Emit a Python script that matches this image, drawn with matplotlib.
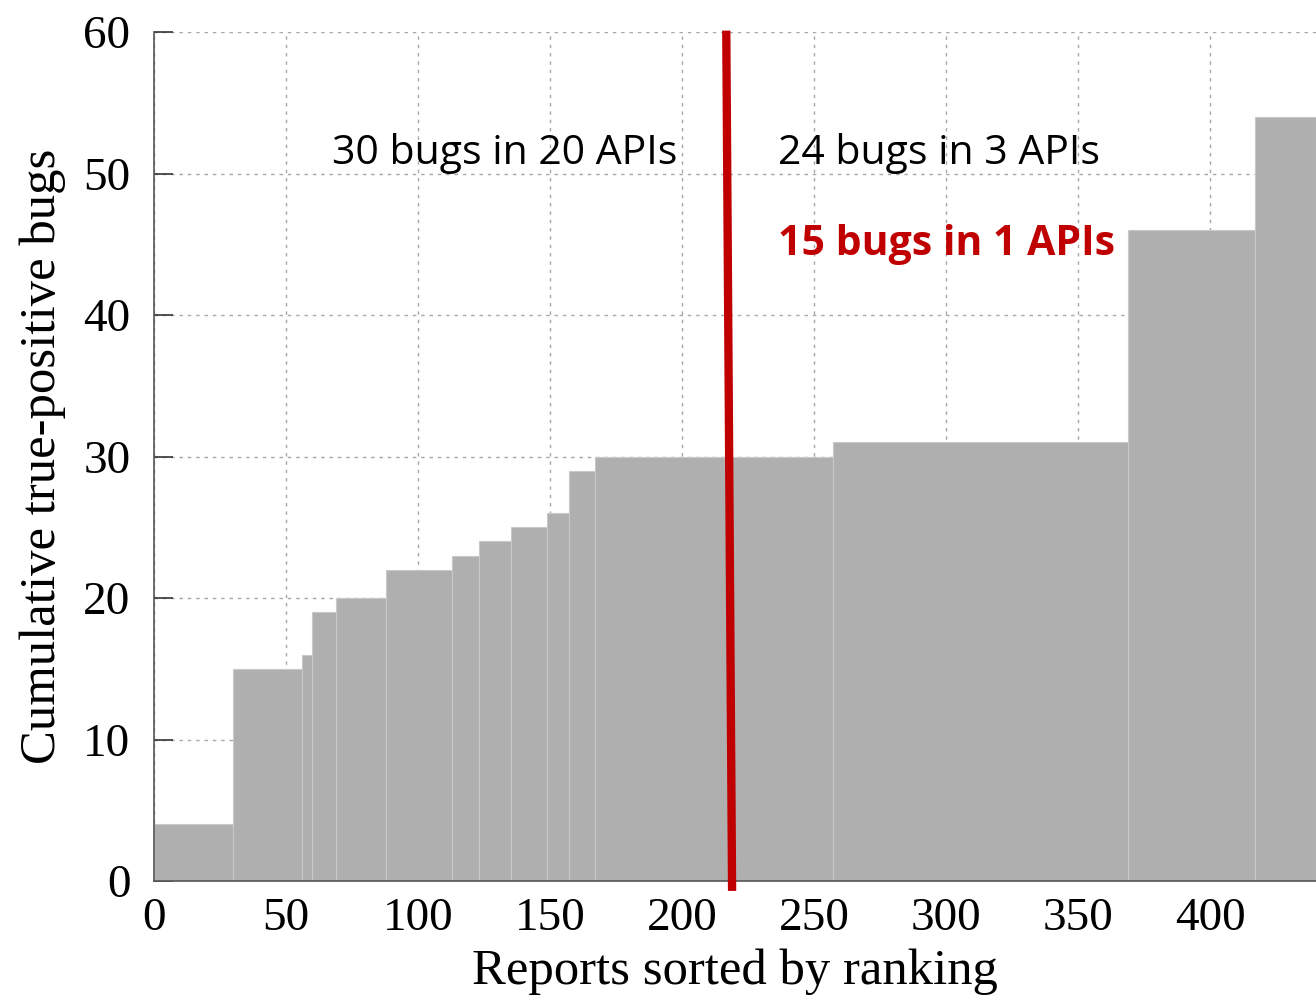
import numpy as np
import matplotlib.pyplot as plt

# step boundaries (report rank) and cumulative bug counts
edges = [0, 30, 56, 60, 69, 88, 113, 123, 135, 149, 157, 167, 257, 369, 417, 440]
bugs = [4, 15, 16, 19, 20, 22, 23, 24, 25, 26, 29, 30, 31, 46, 54]

# red cut-off line (slightly slanted, as in the original)
cut_x = [216.7, 218.9]
cut_y = [60.1, -0.7]

xticks = [0, 50, 100, 150, 200, 250, 300, 350, 400]
yticks = [0, 10, 20, 30, 40, 50, 60]

fig = plt.figure(figsize=(13.16, 10), dpi=100)
ax = fig.add_axes([0.117, 0.119, 0.883, 0.849])

left = np.array(edges[:-1])
width = np.diff(edges)
ax.bar(left, bugs, width=width, align='edge', color='#afafaf',
       edgecolor='#c9c9c9', linewidth=0.8)

ax.plot(cut_x, cut_y, color='#c00000', lw=6, clip_on=False, zorder=5,
        solid_capstyle='butt')

# annotations
ax.text(67.4, 51.4, '30 bugs in 20 APIs', fontsize=29.5, family='Open Sans',
        va='center', ha='left', color='black')
ax.text(236.3, 51.4, '24 bugs in 3 APIs', fontsize=29.5, family='Open Sans',
        va='center', ha='left', color='black')
ax.text(236.3, 45.0, '15 bugs in 1 APIs', fontsize=29.5, family='Open Sans',
        fontweight='bold', va='center', ha='left', color='#c00000')

ax.set_xlim(0, 440)
ax.set_ylim(0, 60)
ax.set_xticks(xticks)
ax.set_yticks(yticks)
ax.set_axisbelow(True)
ax.grid(True, color='#a8a8a8', linestyle=(0, (2.5, 3.5)), linewidth=1.0)

for s in ['top', 'right']:
    ax.spines[s].set_visible(False)
for s in ['left', 'bottom']:
    ax.spines[s].set_color('#555555')
    ax.spines[s].set_linewidth(1.2)

serif = 'Liberation Serif'
ax.tick_params(axis='y', direction='in', length=14, width=1.2, color='#333333',
               labelsize=34, pad=17)
ax.tick_params(axis='x', direction='in', length=0, labelsize=34, pad=12)
for lab in ax.get_xticklabels() + ax.get_yticklabels():
    lab.set_family(serif)

ax.set_xlabel('Reports sorted by ranking', family=serif, fontsize=36.5, labelpad=6)
ax.set_ylabel('Cumulative true-positive bugs', family=serif, fontsize=36.5, labelpad=12)

fig.savefig('out.png', dpi=100)
